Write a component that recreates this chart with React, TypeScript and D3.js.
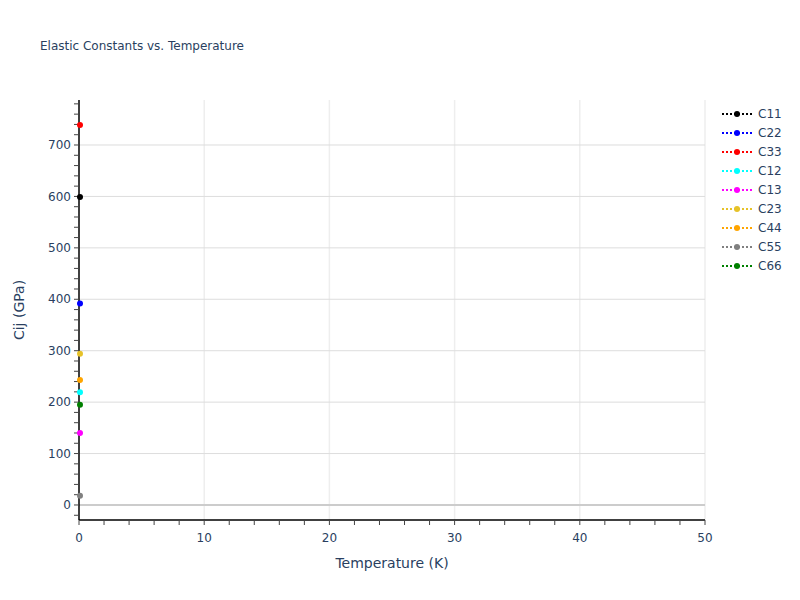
import React from 'react';
import * as d3 from 'd3';

const seriesNames = ['C11', 'C22', 'C33', 'C12', 'C13', 'C23', 'C44', 'C55', 'C66'];
const seriesColors = ['#000000', '#0000ff', '#ff0000', '#00ffff', '#ff00ff', '#e6c229', '#ffa500', '#808080', '#008000'];
const temperatures = [0];
const c11 = [599];
const c22 = [392];
const c33 = [739];
const c12 = [219];
const c13 = [140];
const c23 = [294];
const c44 = [243];
const c55 = [18];
const c66 = [195];
const seriesValues = [c11, c22, c33, c12, c13, c23, c44, c55, c66];

const xTicks = [0, 10, 20, 30, 40, 50];
const yTicks = [0, 100, 200, 300, 400, 500, 600, 700];

const font = '"DejaVu Sans", Verdana, sans-serif';
const textColor = '#2a3f5f';

export default function App() {
  const width = 800;
  const height = 600;
  const margin = { top: 100, right: 95, bottom: 80, left: 79 };
  const innerW = width - margin.left - margin.right;
  const innerH = height - margin.top - margin.bottom;

  const x = d3.scaleLinear().domain([0, 50]).range([0, innerW]);
  const y = d3.scaleLinear().domain([-29.2, 787.5]).range([innerH, 0]);

  const xMinor = d3.range(0, 50.01, 2);
  const yMinor = d3.range(-20, 781, 20);

  const line = d3
    .line<[number, number]>()
    .x((d) => x(d[0]))
    .y((d) => y(d[1]));

  return (
    <svg width={width} height={height} style={{ position: 'absolute', left: 0, top: 0, background: '#fff' }} fontFamily={font}>
      <text x={40} y={50} fontSize={12} fill={textColor}>
        Elastic Constants vs. Temperature
      </text>
      <g transform={`translate(${margin.left},${margin.top})`}>
        {/* grid */}
        {xTicks.slice(1).map((t) => (
          <line key={`gx${t}`} x1={x(t)} x2={x(t)} y1={0} y2={innerH} stroke="#eeeeee" strokeWidth={1.5} />
        ))}
        {yTicks.map((t) => (
          <line key={`gy${t}`} x1={0} x2={innerW} y1={y(t)} y2={y(t)} stroke={t === 0 ? '#cccccc' : '#dddddd'} strokeWidth={t === 0 ? 2 : 1} />
        ))}

        {/* axes */}
        <line x1={0} x2={innerW} y1={innerH} y2={innerH} stroke="#000" strokeWidth={1.5} />
        <line x1={0} x2={0} y1={0} y2={innerH} stroke="#000" strokeWidth={1.5} />

        {xMinor.map((t) => (
          <line key={`xm${t}`} x1={x(t)} x2={x(t)} y1={innerH} y2={innerH + 5} stroke="#444" strokeWidth={1} />
        ))}
        {yMinor.map((t) => (
          <line key={`ym${t}`} x1={-5} x2={0} y1={y(t)} y2={y(t)} stroke="#444" strokeWidth={1} />
        ))}
        {xTicks.map((t) => (
          <text key={`xt${t}`} x={x(t)} y={innerH + 22} textAnchor="middle" fontSize={12} fill={textColor}>
            {t}
          </text>
        ))}
        {yTicks.map((t) => (
          <text key={`yt${t}`} x={-8} y={y(t)} dy="0.35em" textAnchor="end" fontSize={12} fill={textColor}>
            {t}
          </text>
        ))}

        {/* series */}
        {seriesValues.map((vals, i) => {
          const pts = temperatures.map((t, j) => [t, vals[j]] as [number, number]);
          return (
            <g key={seriesNames[i]}>
              <path d={line(pts) || undefined} fill="none" stroke={seriesColors[i]} strokeWidth={2} strokeDasharray="2 2" />
              {pts.map((p, j) => (
                <circle key={j} cx={x(p[0]) + 1} cy={y(p[1])} r={3} fill={seriesColors[i]} />
              ))}
            </g>
          );
        })}
      </g>

      {/* axis titles */}
      <text x={margin.left + innerW / 2} y={568} textAnchor="middle" fontSize={14} fill={textColor}>
        Temperature (K)
      </text>
      <text transform={`translate(24,${margin.top + innerH / 2}) rotate(-90)`} textAnchor="middle" fontSize={14} fill={textColor}>
        Cij (GPa)
      </text>

      {/* legend */}
      <g transform="translate(722,114)">
        {seriesNames.map((name, i) => (
          <g key={name} transform={`translate(0,${i * 19})`}>
            <line x1={0} x2={30} y1={0} y2={0} stroke={seriesColors[i]} strokeWidth={2} strokeDasharray="2 2" />
            <circle cx={15} cy={0} r={3} fill={seriesColors[i]} />
            <text x={36} y={0} dy="0.35em" fontSize={12} fill={textColor}>
              {name}
            </text>
          </g>
        ))}
      </g>
    </svg>
  );
}
